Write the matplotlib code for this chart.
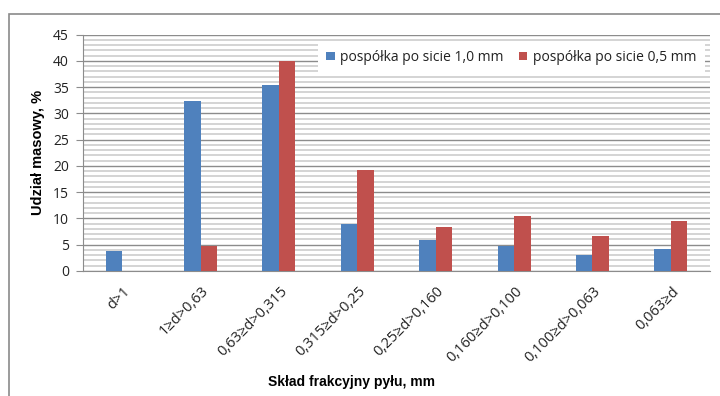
import matplotlib.pyplot as plt
import numpy as np
from matplotlib.patches import Rectangle
from matplotlib.ticker import MultipleLocator
from matplotlib.transforms import ScaledTranslation

categories = ["d>1", "1≥d>0,63", "0,63≥d>0,315", "0,315≥d>0,25",
              "0,25≥d>0,160", "0,160≥d>0,100", "0,100≥d>0,063", "0,063≥d"]
sieve_10 = [3.9, 32.3, 35.4, 8.9, 5.9, 4.8, 3.0, 4.2]
sieve_05 = [np.nan, 4.8, 40.0, 19.3, 8.4, 10.5, 6.7, 9.6]
series_names = ["pospółka po sicie 1,0 mm", "pospółka po sicie 0,5 mm"]
y_ticks = list(range(0, 46, 5))

plt.rcParams['font.family'] = ['Open Sans', 'DejaVu Sans']

fig = plt.figure(figsize=(7.2, 3.96), dpi=100)
ax = fig.add_axes([83/720, 1 - 271/396, 627/720, 236.5/396])

# outer chart-area frame
fig.patches.append(Rectangle((9/720, -0.1), 1.2, 1 - 14/396 + 0.1,
                             transform=fig.transFigure, fill=False,
                             edgecolor='#8a8a8a', lw=1.2))

x = np.arange(len(categories))
w = 0.21
ax.bar(x - w/2, sieve_10, width=w, color='#4F81BD', label=series_names[0], zorder=3)
ax.bar(x + w/2, sieve_05, width=w, color='#C0504D', label=series_names[1], zorder=3)

ax.set_xlim(-0.5, len(categories) - 0.5)
ax.set_ylim(0, 45)
ax.set_yticks(y_ticks)
ax.yaxis.set_minor_locator(MultipleLocator(1))
ax.grid(axis='y', which='major', color='#8c8c8c', lw=1.0, zorder=1)
ax.grid(axis='y', which='minor', color='#d4d4d4', lw=1.4, zorder=0)
ax.tick_params(axis='y', which='major', length=5, color='#8c8c8c',
               labelsize=10, labelcolor='#222222', pad=5)
ax.tick_params(axis='y', which='minor', length=0)
ax.tick_params(axis='x', length=0, labelsize=10.5, labelcolor='#222222', pad=13)
ax.set_xticks(x)
ax.set_xticklabels(categories, rotation=45, ha='right', va='center',
                   rotation_mode='anchor')
shift = ScaledTranslation(6/100, 0, fig.dpi_scale_trans)
for lbl in ax.get_xticklabels():
    lbl.set_transform(lbl.get_transform() + shift)

for s in ['top', 'right']:
    ax.spines[s].set_visible(False)
ax.spines['left'].set_color('#8c8c8c')
ax.spines['bottom'].set_color('#8c8c8c')

leg = ax.legend(loc='center', bbox_to_anchor=(0.683, 0.903), ncol=2,
                frameon=True, fancybox=False, edgecolor='none', facecolor='white',
                framealpha=1, fontsize=10, handlelength=0.6, handleheight=0.6,
                handletextpad=0.4, columnspacing=1.1, borderpad=0.6)
for t in leg.get_texts():
    t.set_color('#222222')
leg.set_zorder(5)

fig.text(38/720, 1 - 152/396, "Udział masowy, %", rotation=90, ha='center',
         va='center', fontsize=10.5, fontweight='bold',
         family=['Liberation Sans', 'DejaVu Sans'])
fig.text(268/720, 1 - 382/396, "Skład frakcyjny pyłu, mm", ha='left',
         va='center', fontsize=10, fontweight='bold',
         family=['Liberation Sans', 'DejaVu Sans'])

fig.savefig("out.png", dpi=100)
